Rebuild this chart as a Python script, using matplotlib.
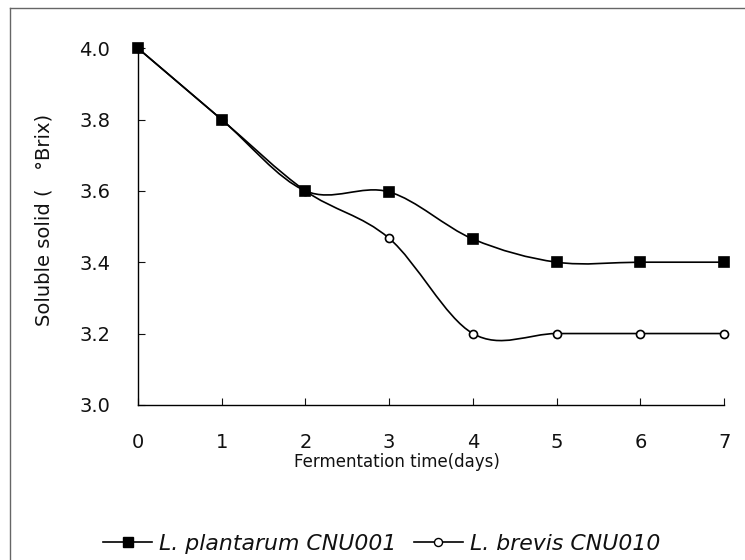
import numpy as np
import matplotlib
matplotlib.use("Agg")
import matplotlib.pyplot as plt
from matplotlib.path import Path
from matplotlib.patches import PathPatch
from matplotlib.lines import Line2D

plt.rcParams['font.family'] = ['DejaVu Sans']

days = [0, 1, 2, 3, 4, 5, 6, 7]
plantarum = [4.0, 3.8, 3.6, 3.597, 3.465, 3.4, 3.4, 3.4]
brevis = [4.0, 3.8, 3.6, 3.467, 3.2, 3.2, 3.2, 3.2]
labels = ["L. plantarum CNU001", "L. brevis CNU010"]
xticks = [0, 1, 2, 3, 4, 5, 6, 7]
yticks = [3.0, 3.2, 3.4, 3.6, 3.8, 4.0]


def smooth_path(x, y):
    x = np.asarray(x, float); y = np.asarray(y, float)
    n = len(x)
    verts = [(x[0], y[0])]
    codes = [Path.MOVETO]
    for i in range(n - 1):
        p0 = (x[max(i - 1, 0)], y[max(i - 1, 0)])
        p1 = (x[i], y[i]); p2 = (x[i + 1], y[i + 1])
        p3 = (x[min(i + 2, n - 1)], y[min(i + 2, n - 1)])
        c1 = (p1[0] + (p2[0] - p0[0]) / 6, p1[1] + (p2[1] - p0[1]) / 6)
        c2 = (p2[0] - (p3[0] - p1[0]) / 6, p2[1] - (p3[1] - p1[1]) / 6)
        verts += [c1, c2, p2]
        codes += [Path.CURVE4] * 3
    return Path(verts, codes)


fig = plt.figure(figsize=(7.45, 5.6), dpi=100)
ax = fig.add_axes([0.185, 0.277, 0.787, 0.637])

series = [(brevis, 'o', 'white', 5.8, 2), (plantarum, 's', 'black', 7, 4)]
for yv, mk, fc, ms, z in series:
    ax.add_patch(PathPatch(smooth_path(days, yv), fill=False, ec='black', lw=1.2, zorder=z))
    ax.plot(days, yv, ls='none', marker=mk, ms=ms,
            mfc=fc, mec='black', mew=1.2, zorder=z + 1, clip_on=False)

ax.set_xlim(0, 7)
ax.set_ylim(3.0, 4.0)
ax.set_xticks(xticks)
ax.set_yticks(yticks)
ax.set_yticklabels([f"{v:.1f}" for v in yticks])
for s in ['top', 'right']:
    ax.spines[s].set_visible(False)
for s in ['left', 'bottom']:
    ax.spines[s].set_linewidth(1.0)
ax.tick_params(axis='both', direction='in', length=5, width=0.8, labelsize=14, colors='#111111')
ax.tick_params(axis='y', pad=20)
ax.tick_params(axis='x', pad=20)
ax.set_xlabel("Fermentation time(days)", fontsize=12, color='#111111')
ax.xaxis.set_label_coords(0.442, -0.134)
ax.set_ylabel("Soluble solid (   °Brix)", fontsize=14, color='#111111')
ax.yaxis.set_label_coords(-0.143, 0.518)

handles = [Line2D([], [], color='black', lw=1.2, marker='s', ms=7, mfc='black', mec='black'),
           Line2D([], [], color='black', lw=1.2, marker='o', ms=5.8, mfc='white', mec='black')]
leg = fig.legend(handles, labels, loc='center', bbox_to_anchor=(0.512, 0.029), ncol=2,
                 frameon=False, handlelength=2.25, handletextpad=0.3, columnspacing=0.8,
                 borderpad=0, prop={'style': 'italic', 'size': 15.8})
for t in leg.get_texts():
    t.set_color('#111111')

fig.add_artist(Line2D([10 / 745, 1.0], [1 - 8 / 560, 1 - 8 / 560], transform=fig.transFigure,
                      color='#666666', lw=1.0))
fig.add_artist(Line2D([10 / 745, 10 / 745], [0.0, 1 - 8 / 560], transform=fig.transFigure,
                      color='#666666', lw=1.0))

fig.savefig("out.png", dpi=100)
